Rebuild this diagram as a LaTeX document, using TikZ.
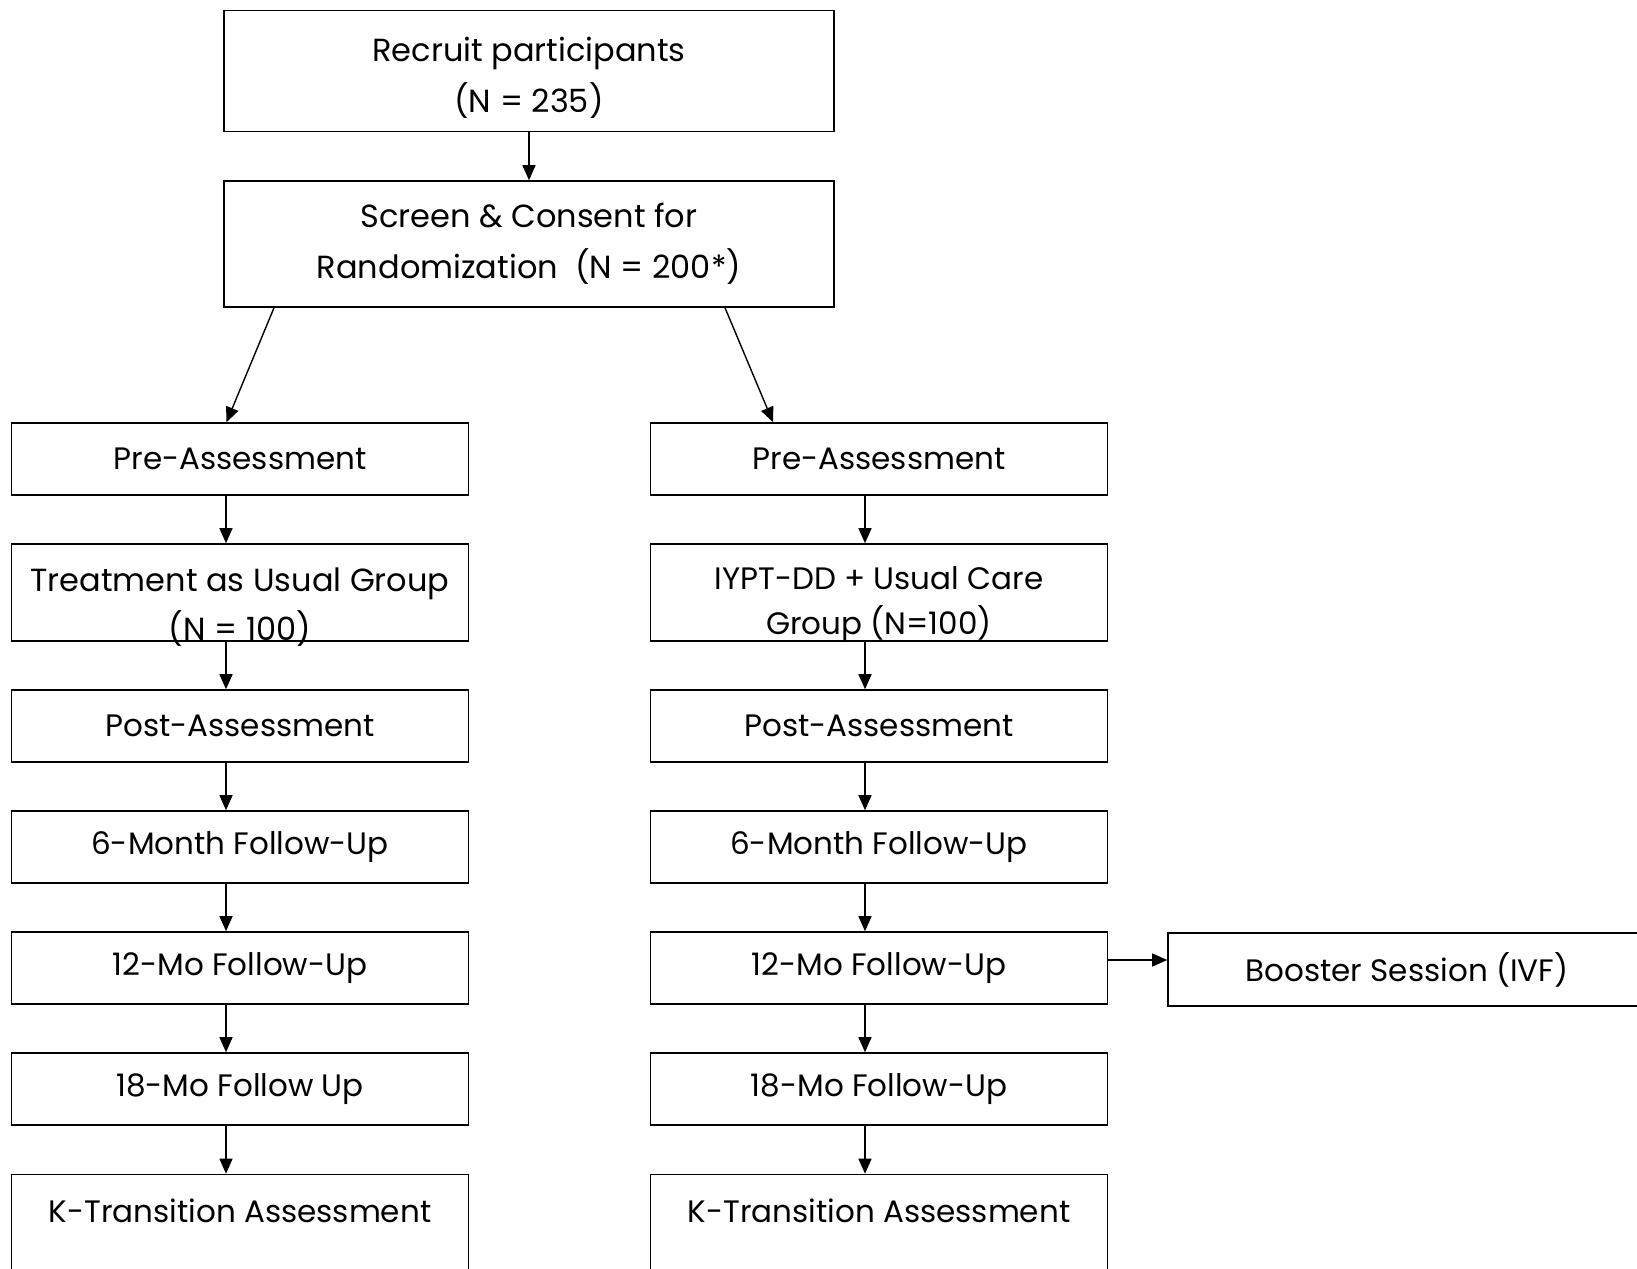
\documentclass[tikz,border=0pt]{standalone}
\usepackage{fontspec}
\setmainfont{Poppins}
\usepackage{tikz}
\usetikzlibrary{arrows.meta}

\tikzset{
  box/.style={draw,line width=1.6pt,minimum width=457pt,minimum height=72pt,inner sep=0pt,align=center,font=\fontsize{31}{51}\selectfont},
  arr/.style={line width=1.4pt,-{Triangle[length=15pt,width=13pt]}}
}

\begin{document}
\begin{tikzpicture}[x=1pt,y=-1pt]
    \useasboundingbox (0,0) rectangle (1637,1268);
    % top of the flow
    \node[box,minimum width=610pt,minimum height=121pt,label={[align=center,font=\fontsize{32}{51}\selectfont,yshift=-7pt]center:Recruit participants\\(N = 235)}] (recruit) at (529,71) {};
    \node[box,minimum width=610pt,minimum height=126pt,font=\fontsize{32}{51}\selectfont] (screen) at (529,244) {Screen \& Consent for\\Randomization\ \ (N = 200*)};
    % left arm
    \node[box] (preL) at (240,459) {Pre-Assessment};
    \node[box,minimum height=97pt,label={[align=center,font=\fontsize{32}{49}\selectfont,yshift=-15pt]center:Treatment as Usual Group\\(N = 100)}] (grpL) at (240,592.5) {};
    \node[box] (postL) at (240,726) {Post-Assessment};
    \node[box] (sixL) at (240,847) {6-Month Follow-Up};
    \node[box] (twelveL) at (240,968) {12-Mo Follow-Up};
    \node[box] (eighteenL) at (240,1089) {18-Mo Follow Up};
    \node[box,minimum height=130pt,label={[anchor=center,font=\fontsize{31}{51}\selectfont,yshift=-37.5pt]north:K-Transition Assessment}] (kL) at (240,1239.5) {};
    % right arm
    \node[box] (preR) at (879,459) {Pre-Assessment};
    \node[box,minimum height=97pt,label={[align=center,font=\fontsize{31}{45}\selectfont,yshift=-12pt]center:IYPT-DD + Usual Care\\Group (N=100)}] (grpR) at (879,592.5) {};
    \node[box] (postR) at (879,726) {Post-Assessment};
    \node[box] (sixR) at (879,847) {6-Month Follow-Up};
    \node[box] (twelveR) at (879,968) {12-Mo Follow-Up};
    \node[box] (eighteenR) at (879,1089) {18-Mo Follow-Up};
    \node[box,minimum height=130pt,label={[anchor=center,font=\fontsize{31}{51}\selectfont,yshift=-37.5pt]north:K-Transition Assessment}] (kR) at (879,1239.5) {};
    \node[box,minimum width=478pt,minimum height=73pt] (booster) at (1407,969.5) {Booster Session (IVF)};
    % connectors
    \draw[arr] (recruit.south) -- (screen.north);
    \draw[arr] ([xshift=-255pt]screen.south) -- ([xshift=-13.5pt]preL.north);
    \draw[arr] ([xshift=196pt]screen.south) -- ([xshift=-106pt]preR.north);
    \foreach \a/\b in {preL/grpL,grpL/postL,postL/sixL,sixL/twelveL,twelveL/eighteenL,eighteenL/kL,
                       preR/grpR,grpR/postR,postR/sixR,sixR/twelveR,twelveR/eighteenR,eighteenR/kR}
        \draw[arr] ([xshift=-14pt]\a.south) -- ([xshift=-14pt]\b.north);
    \draw[arr] ([yshift=8pt]twelveR.east) -- ([yshift=9.5pt]booster.west);
\end{tikzpicture}
\end{document}
